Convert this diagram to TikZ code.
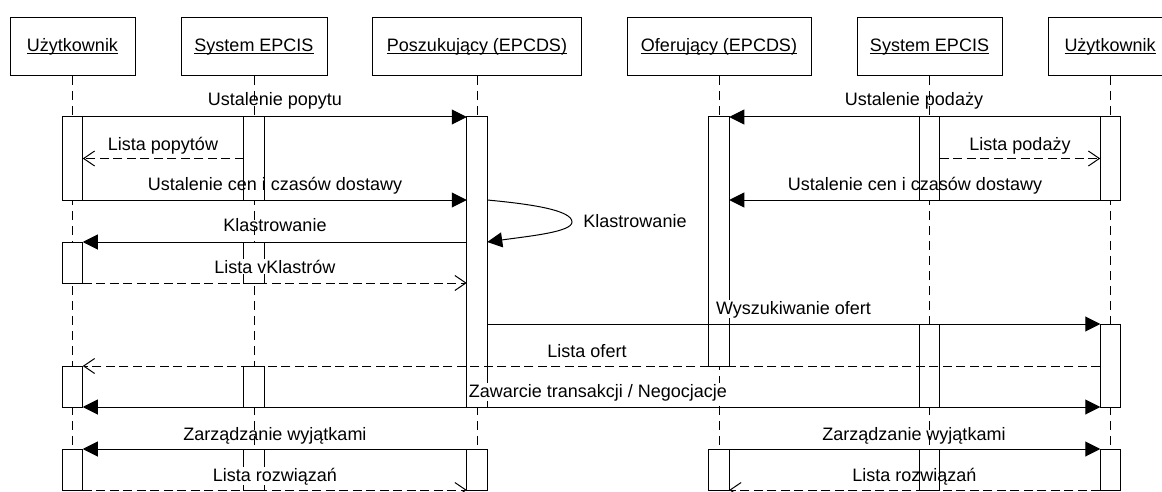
\documentclass[tikz,border=0pt]{standalone}
\usepackage{fontspec}
\setmainfont{Liberation Sans}
\usetikzlibrary{arrows.meta}
% underlined participant name, rule just below the baseline
\newcommand\ulname[1]{\setbox0\hbox{#1}\rlap{\rule[-2.5pt]{\wd0}{1pt}}\box0}
\begin{document}
\begin{tikzpicture}[x=1pt,y=-1pt,
  font=\fontsize{18}{21}\selectfont,
  head/.style={draw=black, line width=1pt, fill=white, minimum height=58pt, inner sep=0pt, outer sep=0pt},
  life/.style={line width=1pt, dash pattern=on 9pt off 6pt},
  act/.style={draw=black, line width=1pt, fill=white, minimum width=20.5pt, inner sep=0pt, outer sep=0pt, anchor=north},
  msg/.style={line width=1pt, -{Triangle[length=15pt,width=15pt]}},
  both/.style={line width=1pt, {Triangle[length=15pt,width=15pt]}-{Triangle[length=15pt,width=15pt]}},
  ret/.style={line width=1pt, dash pattern=on 9pt off 4.5pt, -{Straight Barb[length=11pt,width=15pt,line width=1pt]}},
  lbl/.style={anchor=base, inner sep=0.5pt},
  lblbg/.style={lbl, fill=white}]

\useasboundingbox (0,0) rectangle (1162,492);
\clip (0,0) rectangle (1162,492);

% participants
\node[head, minimum width=125pt] (h1) at (72.5,47) {\ulname{Użytkownik}};
\node[head, minimum width=146pt] (h2) at (254,47) {\ulname{System EPCIS}};
\node[head, minimum width=209pt] (h3) at (477,47) {\ulname{Poszukujący (EPCDS)}};
\node[head, minimum width=184pt] (h4) at (719,47) {\ulname{Oferujący (EPCDS)}};
\node[head, minimum width=145pt] (h5) at (929.5,47) {\ulname{System EPCIS}};
\node[head, minimum width=124pt] (h6) at (1110,47) {\ulname{Użytkownik}};

% lifeline ends
\coordinate (b1) at (72.5,492);
\coordinate (b2) at (254,492);
\coordinate (b3) at (477,492);
\coordinate (b4) at (719,492);
\coordinate (b5) at (929.5,492);
\coordinate (b6) at (1110,492);
\foreach \i in {1,...,6} \draw[life] (h\i.south) -- (b\i);

% activation bars
\node[act, minimum height=83pt] (uL1) at (72.5,117) {};
\node[act, minimum height=41pt] (uL2) at (72.5,242) {};
\node[act, minimum height=41pt] (uL3) at (72.5,366) {};
\node[act, minimum height=41pt] (uL4) at (72.5,449) {};
\node[act, minimum height=83pt] (eL1) at (254,117) {};
\node[act, minimum height=41pt] (eL2) at (254,242) {};
\node[act, minimum height=41pt] (eL3) at (254,366) {};
\node[act, minimum height=41pt] (eL4) at (254,449) {};
\node[act, minimum height=290pt] (pA1) at (477,117) {};
\node[act, minimum height=41pt] (pA2) at (477,449) {};
\node[act, minimum height=249pt] (oA1) at (719,117) {};
\node[act, minimum height=41pt] (oA2) at (719,449) {};
\node[act, minimum height=83pt] (eR1) at (929.5,117) {};
\node[act, minimum height=83pt] (eR2) at (929.5,324) {};
\node[act, minimum height=41pt] (eR3) at (929.5,449) {};
\node[act, minimum height=83pt] (uR1) at (1110.5,117) {};
\node[act, minimum height=83pt] (uR2) at (1110.5,324) {};
\node[act, minimum height=41pt] (uR3) at (1110.5,449) {};

% messages
\draw[msg] (uL1.north east) -- (pA1.north west);
\draw[msg] (uR1.north west) -- (oA1.north east);
\draw[ret] (eL1.west) -- (uL1.east);
\draw[ret] (eR1.east) -- (uR1.west);
\draw[msg] (uL1.south east) -- (pA1.west |- uL1.south);
\draw[msg] (uR1.south west) -- (oA1.east |- uR1.south);
\draw[msg] (pA1.east |- uL1.south) .. controls (530,204) and (572,210) .. (572,222)
  .. controls (572,232) and (530,236) .. (pA1.east |- uL2.north);
\draw[msg] (pA1.west |- uL2.north) -- (uL2.north east);
\draw[ret] (uL2.south east) -- (pA1.west |- uL2.south);
\draw[msg] (pA1.east |- uR2.north) -- (uR2.north west);
\draw[ret] (uR2.west |- uL3.north) -- (uL3.north east);
\draw[both] (uL3.south east) -- (uR2.south west);
\draw[msg] (pA2.north west) -- (uL4.north east);
\draw[msg] (oA2.north east) -- (uR3.north west);
\draw[ret] (uL4.south east) -- (pA2.south west);
\draw[ret] (uR3.south west) -- (oA2.south east);

% message labels
\node[lbl] (l1) at (275,106) {Ustalenie popytu};
\node[lbl] (l2) at (163,150) {Lista popytów};
\node[lbl] (l3) at (275,190) {Ustalenie cen i czasów dostawy};
\node[lbl] (l4) at (275,231) {Klastrowanie};
\node[lblbg] (l5) at (275,273) {Lista vKlastrów};
\node[lbl] (l6) at (635,227) {Klastrowanie};
\node[lblbg] (l7) at (793.5,314) {Wyszukiwanie ofert};
\node[lbl] (l8) at (587,357) {Lista ofert};
\node[lblbg] (l9) at (598,397) {Zawarcie transakcji / Negocjacje};
\node[lbl] (l10) at (275,440) {Zarządzanie wyjątkami};
\node[lblbg] (l11) at (275,481) {Lista rozwiązań};
\node[lbl] (l12) at (914,106) {Ustalenie podaży};
\node[lbl] (l13) at (1020,150) {Lista podaży};
\node[lbl] (l14) at (915,190) {Ustalenie cen i czasów dostawy};
\node[lbl] (l15) at (914,440) {Zarządzanie wyjątkami};
\node[lbl] (l16) at (914.5,481) {Lista rozwiązań};
\end{tikzpicture}
\end{document}
